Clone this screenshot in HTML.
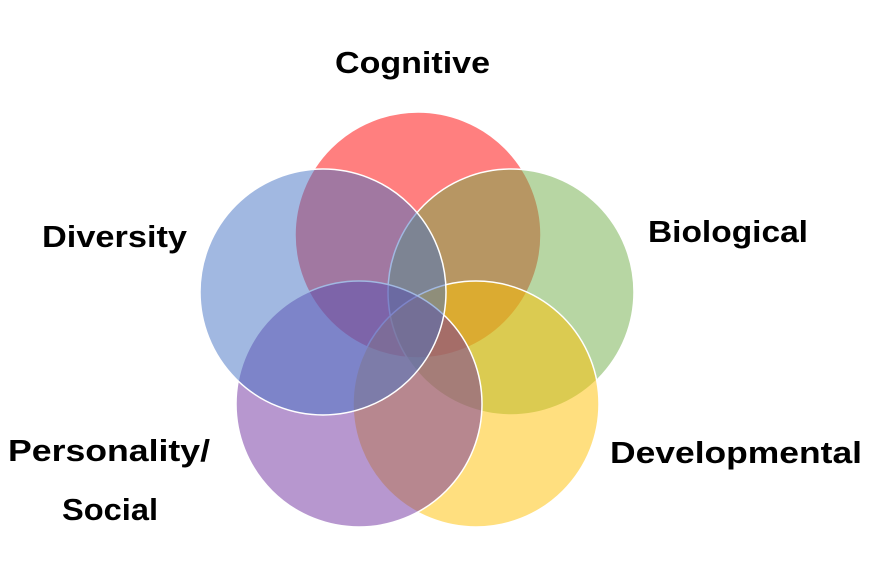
<!DOCTYPE html>
<html><head><meta charset="utf-8"><style>html,body{margin:0;padding:0;background:#fff;}svg{display:block}</style></head>
<body>
<svg width="870" height="574" viewBox="0 0 870 574" xmlns="http://www.w3.org/2000/svg">
<g stroke="#fff" stroke-width="1.5">
<circle cx="418" cy="235" r="123" fill="#FF0000" fill-opacity="0.5"/>
<circle cx="511" cy="292" r="123" fill="#70AD47" fill-opacity="0.5"/>
<circle cx="476" cy="404" r="123" fill="#FFC000" fill-opacity="0.5"/>
<circle cx="359" cy="404" r="123" fill="#7030A0" fill-opacity="0.5"/>
<circle cx="323" cy="292" r="123" fill="#4472C4" fill-opacity="0.5"/>
</g>
<g font-family="Liberation Sans, sans-serif" font-weight="bold" font-size="31" fill="#000">
<text x="335" y="73" textLength="155" lengthAdjust="spacingAndGlyphs">Cognitive</text>
<text x="42" y="247" textLength="145" lengthAdjust="spacingAndGlyphs">Diversity</text>
<text x="648" y="242" textLength="160" lengthAdjust="spacingAndGlyphs">Biological</text>
<text x="8" y="461" textLength="202" lengthAdjust="spacingAndGlyphs">Personality/</text>
<text x="62" y="520" textLength="96" lengthAdjust="spacingAndGlyphs">Social</text>
<text x="610" y="463" textLength="252" lengthAdjust="spacingAndGlyphs">Developmental</text>
</g>
</svg>
</body></html>
